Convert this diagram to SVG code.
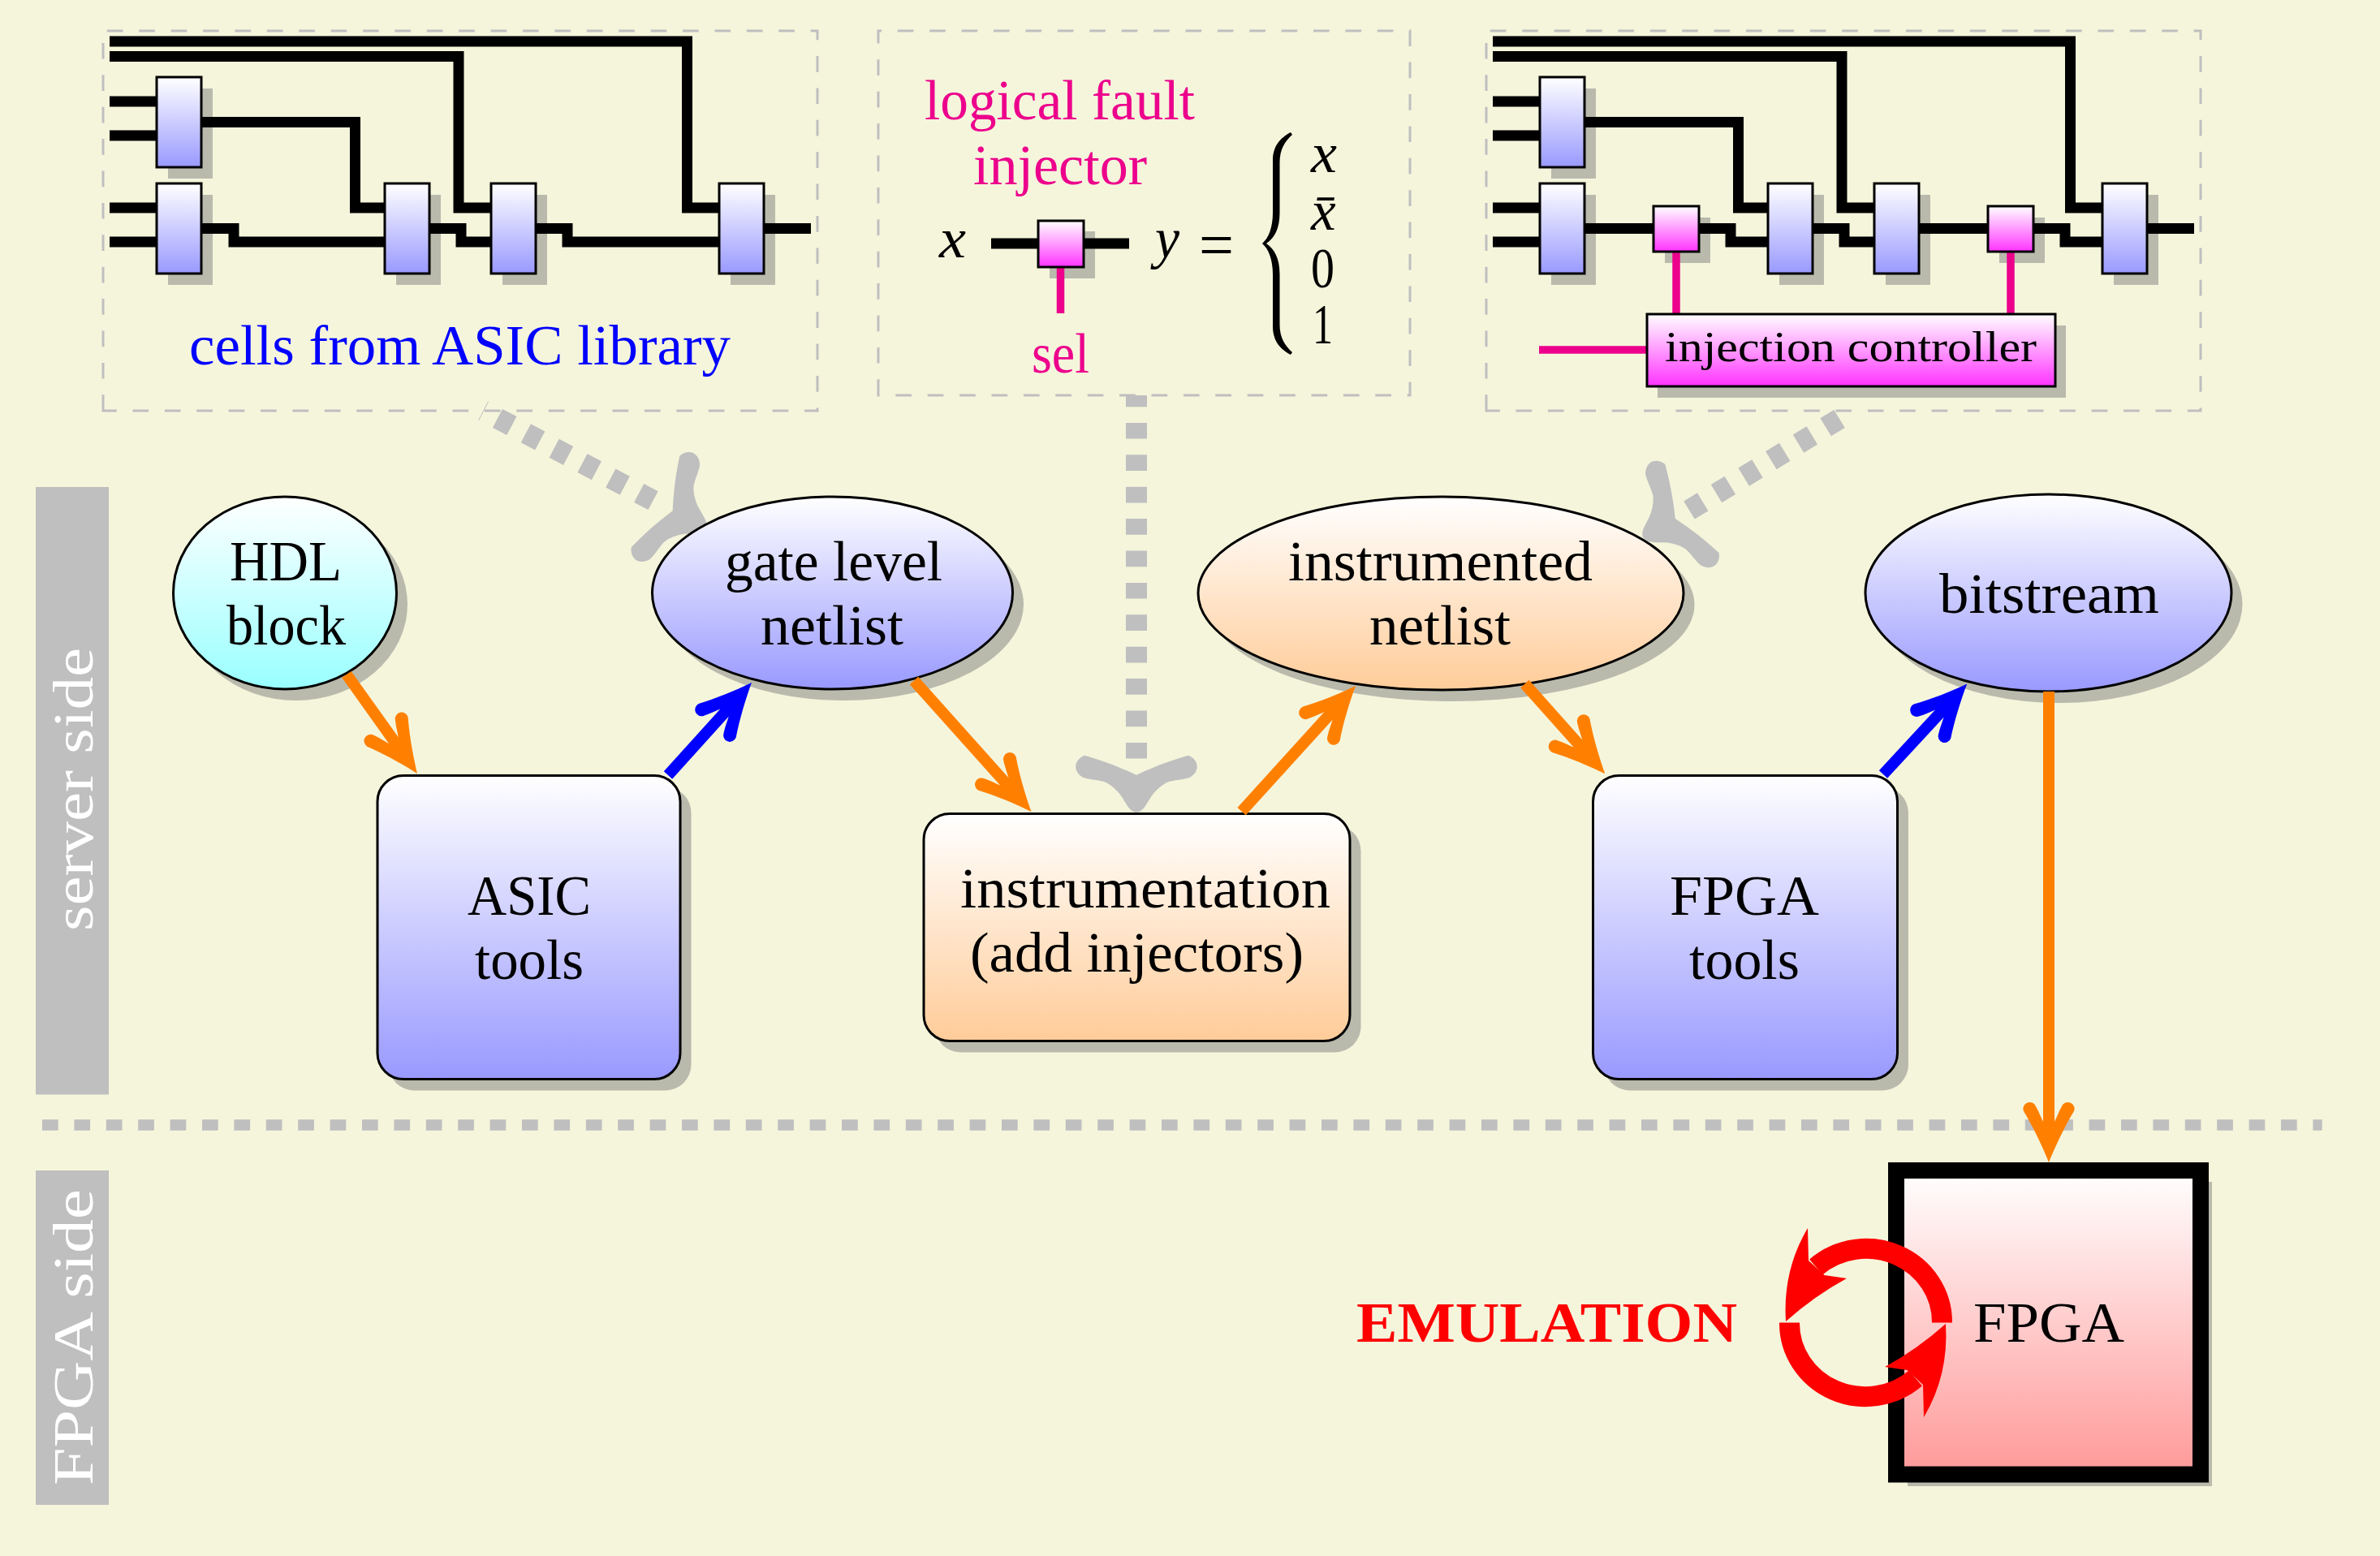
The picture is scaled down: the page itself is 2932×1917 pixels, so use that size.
<svg xmlns="http://www.w3.org/2000/svg" width="2932" height="1917" viewBox="0 0 2932 1917">
<style>
text{font-family:"Liberation Serif","Times New Roman",serif;font-size:69px;fill:#000}
.it{font-style:italic}
.pk{fill:#ec008c}
.shadow{fill:#b9baac;stroke:none}
.wire{fill:none;stroke:#000;stroke-width:13}
.pl{fill:none;stroke:#ec008c;stroke-width:9.5}
.gate{fill:url(#gBlue);stroke:#000;stroke-width:3}
.inj{fill:url(#gMag);stroke:#000;stroke-width:3}
.frame{fill:none;stroke:#bfbfbf;stroke-width:3;stroke-dasharray:19.7 19.7}
.n{stroke:#000;stroke-width:3}
.gd{fill:none;stroke:#bfbfbf;stroke-width:26;stroke-dasharray:19.7 19.7;marker-end:url(#tulip)}
.oa{fill:none;stroke:#ff8000;stroke-width:14;marker-end:url(#hO)}
.ba{fill:none;stroke:#00f;stroke-width:14;marker-end:url(#hB)}
</style>
<defs>
<linearGradient id="gBlue" x1="0" y1="0" x2="0" y2="1"><stop offset="0" stop-color="#fff"/><stop offset="1" stop-color="#9999ff"/></linearGradient>
<linearGradient id="gMag" x1="0" y1="0" x2="0" y2="1"><stop offset="0" stop-color="#fff"/><stop offset="1" stop-color="#ff33ff"/></linearGradient>
<linearGradient id="gCy" x1="0" y1="0" x2="0" y2="1"><stop offset="0" stop-color="#fff"/><stop offset="1" stop-color="#99ffff"/></linearGradient>
<linearGradient id="gOr" x1="0" y1="0" x2="0" y2="1"><stop offset="0" stop-color="#fff"/><stop offset="1" stop-color="#ffcc99"/></linearGradient>
<linearGradient id="gRed" x1="0" y1="0" x2="0" y2="1"><stop offset="0" stop-color="#fff"/><stop offset="1" stop-color="#ff9999"/></linearGradient>
<path id="head" d="M0,0 C-20,-8 -45,-20 -63,-31 A8,8 0 0 0 -69,-16 C-62,-12 -56,-10 -50,-7 L-50,7 C-56,10 -62,12 -69,16 A8,8 0 0 0 -63,31 C-45,20 -20,8 0,0Z"/>
<marker id="hO" markerUnits="userSpaceOnUse" orient="auto" refX="-25" refY="0" markerWidth="10" markerHeight="10" overflow="visible"><use href="#head" fill="#ff8000"/></marker>
<marker id="hB" markerUnits="userSpaceOnUse" orient="auto" refX="-25" refY="0" markerWidth="10" markerHeight="10" overflow="visible"><use href="#head" fill="#00f"/></marker>
<marker id="tulip" markerUnits="userSpaceOnUse" orient="auto" refX="-66" refY="0" markerWidth="10" markerHeight="10" overflow="visible"><path fill="#bfbfbf" d="M0,0 C0,-8 -10,-12 -19,-18 C-28,-24 -34,-32 -37,-38 C-40,-46 -40,-58 -43,-66 C-50,-78 -64,-78 -70,-64 C-66,-50 -60,-30 -46,0 C-60,30 -66,50 -70,64 C-64,78 -50,78 -43,66 C-40,58 -40,46 -37,38 C-34,32 -28,24 -19,18 C-10,12 0,8 0,0Z"/></marker>
<path id="loop" fill="#f00" d="M2200,1628 Q2196,1565 2227,1513 L2228,1553 L2247.5,1571 L2275,1575 Q2236,1596 2200,1628Z"/>
<path id="loopArc" fill="none" stroke="#f00" stroke-width="25" d="M2392.5,1629.5 A93.5,90.5 0 0 0 2237.2,1561"/>
</defs>
<rect id="background" width="2932" height="1917" fill="#f5f5dc"/>

<g id="side-bars">
<rect x="44" y="600" width="90" height="748.5" fill="#bfbfbf"/>
<rect x="44" y="1442" width="90" height="412" fill="#bfbfbf"/>
<text transform="translate(114 1147) rotate(-90)" textLength="349" lengthAdjust="spacingAndGlyphs" style="fill:#fff">server side</text>
<text transform="translate(114 1830) rotate(-90)" textLength="365" lengthAdjust="spacingAndGlyphs" style="fill:#fff">FPGA side</text>
</g>
<path id="separator" d="M52,1386 H2860.7" fill="none" stroke="#bfbfbf" stroke-width="13.4" stroke-dasharray="19.7 19.7"/>

<g id="library-panel">
<path class="frame" d="M127,506 V38 H1007 V506 Z"/>
<g class="shadow"><rect x="207" y="109" width="55" height="111"/><rect x="207" y="240" width="55" height="111"/><rect x="488" y="240" width="55" height="111"/><rect x="619" y="240" width="55" height="111"/><rect x="900" y="240" width="55" height="111"/></g>
<path class="wire" d="M135,51 H846.5 V256 H886 M135,69.5 H565 V256 H605 M135,125 H193 M135,167 H193 M135,256 H193 M135,298 H193 M248,150.5 H437.5 V256 H474 M248,281.5 H288 V298 H474 M529,281.5 H568 V298 H605 M660,281.5 H699 V298 H886 M941,281.5 H999"/>
<rect class="gate" x="193" y="95" width="55" height="111"/><rect class="gate" x="193" y="226" width="55" height="111"/><rect class="gate" x="474" y="226" width="55" height="111"/><rect class="gate" x="605" y="226" width="55" height="111"/><rect class="gate" x="886" y="226" width="55" height="111"/>
<text x="233" y="449" textLength="667" lengthAdjust="spacingAndGlyphs" style="fill:#00f">cells from ASIC library</text>
</g>

<g id="injector-panel">
<path class="frame" d="M1082,487 V38 H1737 V487 Z"/>
<rect class="shadow" x="1293" y="285" width="56" height="58"/>
<path class="wire" d="M1221,300 H1391"/>
<path class="pl" d="M1306.5,329 V386"/>
<rect class="inj" x="1279" y="272" width="56" height="57"/>
<text class="pk" x="1139" y="147" textLength="333" lengthAdjust="spacingAndGlyphs">logical fault</text>
<text class="pk" x="1199" y="227" textLength="214" lengthAdjust="spacingAndGlyphs">injector</text>
<text class="pk" x="1271" y="459" textLength="71" lengthAdjust="spacingAndGlyphs">sel</text>
<text class="it" x="1157" y="317" textLength="33" lengthAdjust="spacingAndGlyphs">x</text>
<text class="it" x="1423" y="317" textLength="30" lengthAdjust="spacingAndGlyphs">y</text>
<text x="1477" y="328" textLength="43" lengthAdjust="spacingAndGlyphs" style="font-size:78px">=</text>
<path d="M1590,163 C1577,170 1568,180 1568,198 V262 C1568,280 1563,293 1555,300 C1563,307 1568,320 1568,338 V402 C1568,420 1577,430 1590,437 L1592,434 C1583,426 1576.5,416 1576.5,400 V338 C1576.5,318 1570,307 1560,300 C1570,293 1576.5,282 1576.5,262 V200 C1576.5,184 1583,174 1592,166 Z"/>
<text class="it" x="1615" y="212" textLength="32" lengthAdjust="spacingAndGlyphs">x</text>
<text class="it" x="1615" y="283">x̄</text>
<text x="1615" y="354" textLength="29" lengthAdjust="spacingAndGlyphs">0</text>
<text x="1617" y="423" textLength="25" lengthAdjust="spacingAndGlyphs">1</text>
</g>

<g id="instrumented-panel">
<path class="frame" d="M1831,506 V38 H2711 V506 Z"/>
<g class="shadow"><rect x="1911" y="109" width="55" height="111"/><rect x="1911" y="240" width="55" height="111"/><rect x="2192" y="240" width="55" height="111"/><rect x="2323" y="240" width="55" height="111"/><rect x="2604" y="240" width="55" height="111"/><rect x="2051" y="268" width="56" height="56"/><rect x="2463" y="268" width="56" height="56"/><rect x="2042" y="401" width="503" height="89"/></g>
<path class="wire" d="M1839,51 H2550.5 V256 H2590 M1839,69.5 H2269 V256 H2309 M1839,125 H1897 M1839,167 H1897 M1839,256 H1897 M1839,298 H1897 M1952,150.5 H2141.5 V256 H2178 M1952,281.5 H2037 M2092,281.5 H2132 V298 H2178 M2233,281.5 H2272 V298 H2309 M2364,281.5 H2449 M2505,281.5 H2544 V298 H2590 M2645,281.5 H2703"/>
<path class="pl" d="M2065,310 V387 M2477,310 V387 M1896,431 H2029"/>
<rect class="gate" x="1897" y="95" width="55" height="111"/><rect class="gate" x="1897" y="226" width="55" height="111"/><rect class="gate" x="2178" y="226" width="55" height="111"/><rect class="gate" x="2309" y="226" width="55" height="111"/><rect class="gate" x="2590" y="226" width="55" height="111"/>
<rect class="inj" x="2037" y="254" width="56" height="56"/><rect class="inj" x="2449" y="254" width="56" height="56"/>
<g id="injection-controller"><rect class="inj" x="2029" y="387" width="503" height="89"/>
<text x="2051" y="444.5" textLength="458" lengthAdjust="spacingAndGlyphs" style="font-size:53px">injection controller</text></g>
</g>

<g id="annotation-connectors">
<path d="M601.6,494.7 L589.6,518" stroke="#bfbfbf" stroke-width="1" fill="none"/>
<path class="gd" d="M613,515.4 L811,620"/>
<path class="gd" stroke-dashoffset="5.5" d="M1400,487 V934.7"/>
<path class="gd" d="M2266,516 L2081,628.5"/>
</g>

<g id="hdl-block"><ellipse class="shadow" cx="364.5" cy="744.5" rx="137.5" ry="118.5"/><ellipse class="n" cx="351" cy="730.5" rx="137.5" ry="118.5" fill="url(#gCy)"/>
<text x="283" y="715" textLength="138" lengthAdjust="spacingAndGlyphs">HDL</text><text x="279" y="793.5" textLength="147" lengthAdjust="spacingAndGlyphs">block</text></g>
<g id="gate-level-netlist"><ellipse class="shadow" cx="1039" cy="744.5" rx="222" ry="118.5"/><ellipse class="n" cx="1025.5" cy="730.5" rx="222" ry="118.5" fill="url(#gBlue)"/>
<text x="893" y="715" textLength="268" lengthAdjust="spacingAndGlyphs">gate level</text><text x="937" y="793.5" textLength="176" lengthAdjust="spacingAndGlyphs">netlist</text></g>
<g id="instrumented-netlist"><ellipse class="shadow" cx="1788.5" cy="745" rx="299" ry="119"/><ellipse class="n" cx="1775" cy="731" rx="299" ry="119" fill="url(#gOr)"/>
<text x="1587" y="715" textLength="375" lengthAdjust="spacingAndGlyphs">instrumented</text><text x="1687" y="793.5" textLength="174" lengthAdjust="spacingAndGlyphs">netlist</text></g>
<g id="bitstream"><ellipse class="shadow" cx="2537" cy="744.5" rx="225.5" ry="121.5"/><ellipse class="n" cx="2523.5" cy="730.5" rx="225.5" ry="121.5" fill="url(#gBlue)"/>
<text x="2389" y="755" textLength="271" lengthAdjust="spacingAndGlyphs">bitstream</text></g>
<g id="asic-tools"><rect class="shadow" x="478.5" y="969.5" width="373" height="374" rx="32" ry="32"/><rect class="n" x="465" y="955.5" width="373" height="374" rx="32" ry="32" fill="url(#gBlue)"/>
<text x="576" y="1127" textLength="152" lengthAdjust="spacingAndGlyphs">ASIC</text><text x="585" y="1205.5" textLength="134" lengthAdjust="spacingAndGlyphs">tools</text></g>
<g id="instrumentation"><rect class="shadow" x="1151.5" y="1016.5" width="525" height="280" rx="32" ry="32"/><rect class="n" x="1138" y="1002.5" width="525" height="280" rx="32" ry="32" fill="url(#gOr)"/>
<text x="1183" y="1117.5" textLength="456" lengthAdjust="spacingAndGlyphs">instrumentation</text><text x="1195" y="1197" textLength="411" lengthAdjust="spacingAndGlyphs">(add injectors)</text></g>
<g id="fpga-tools"><rect class="shadow" x="1976" y="969.5" width="375" height="374" rx="32" ry="32"/><rect class="n" x="1962.5" y="955.5" width="375" height="374" rx="32" ry="32" fill="url(#gBlue)"/>
<text x="2057" y="1127" textLength="184" lengthAdjust="spacingAndGlyphs">FPGA</text><text x="2081" y="1205.5" textLength="136" lengthAdjust="spacingAndGlyphs">tools</text></g>
<g id="fpga"><rect class="shadow" x="2350" y="1456" width="375" height="375"/><rect x="2336" y="1442" width="375" height="374.5" fill="url(#gRed)" stroke="#000" stroke-width="20"/>
<text x="2431" y="1653" textLength="186" lengthAdjust="spacingAndGlyphs">FPGA</text></g>

<g id="connectors">
<path class="oa" d="M427,831 L499.5,932.6"/>
<path class="ba" d="M823,955 L909.2,859.6"/>
<path class="oa" d="M1126,838.5 L1253.9,981.4"/>
<path class="oa" d="M1529.6,999.6 L1653.2,863.5"/>
<path class="oa" d="M1878.4,842.5 L1960.6,934.6"/>
<path class="ba" d="M2320,954 L2406.3,860.8"/>
<path class="oa" d="M2524,852 V1407"/>
</g>

<g id="emulation">
<use href="#loopArc"/><use href="#loop"/>
<g transform="rotate(180 2298.5 1629.5)"><use href="#loopArc"/><use href="#loop"/></g>
<text x="1671" y="1653" textLength="469" lengthAdjust="spacingAndGlyphs" style="fill:#f00;font-weight:bold">EMULATION</text>
</g>
</svg>
